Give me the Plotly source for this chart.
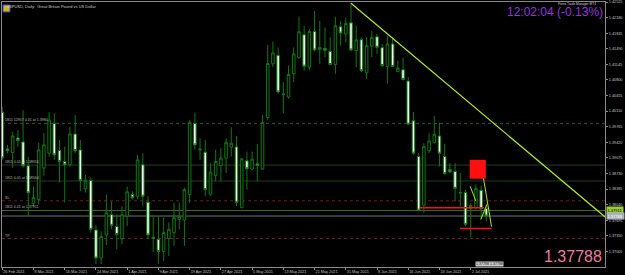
import plotly.graph_objects as go
import pandas as pd

# ---------------- data ----------------
dates = pd.bdate_range("2021-02-26", "2021-07-07")
date_labels = [f"{d.day} {d.strftime('%b %Y')}" for d in dates]

opens = [1.40087, 1.39274, 1.39193, 1.39515, 1.39428, 1.38900, 1.38059, 1.38153, 1.38850, 1.39179,
         1.39838, 1.39236, 1.38995, 1.38922, 1.39603, 1.39252, 1.38389, 1.38577, 1.37479, 1.36857,
         1.37369, 1.37817, 1.37554, 1.37290, 1.37787, 1.38263, 1.38226, 1.38922, 1.38094, 1.37319,
         1.37275, 1.37004, 1.37290, 1.37422, 1.37714, 1.37699, 1.38263, 1.39838, 1.39250, 1.39201,
         1.38270, 1.38687, 1.38907, 1.39070, 1.39311, 1.39318, 1.37971, 1.39010, 1.38828, 1.38944,
         1.38828, 1.39970, 1.41156, 1.41345, 1.40470, 1.40423, 1.40937, 1.41301, 1.41800, 1.41082,
         1.41873, 1.41477, 1.41499, 1.41433, 1.41141, 1.41976, 1.41816, 1.42064, 1.41449, 1.41690,
         1.40959, 1.41552, 1.41756, 1.41515, 1.41097, 1.41596, 1.40987, 1.41025, 1.40774, 1.39896,
         1.39105, 1.38028, 1.39236, 1.39412, 1.39559, 1.39105, 1.38819, 1.38775, 1.38293, 1.38307,
         1.37956, 1.37978, 1.38358, 1.37956]
highs = [1.40196, 1.39362, 1.39654, 1.39691, 1.40131, 1.39098, 1.38439, 1.39406, 1.39625, 1.40087,
         1.40065, 1.39472, 1.39324, 1.39757, 1.40021, 1.39472, 1.38703, 1.38637, 1.37582, 1.37450,
         1.38263, 1.38116, 1.37824, 1.38006, 1.38446, 1.38336, 1.39142, 1.39179, 1.38226, 1.37802,
         1.37787, 1.37758, 1.37648, 1.38088, 1.38081, 1.38410, 1.39911, 1.40080, 1.39509, 1.39472,
         1.38960, 1.39252, 1.39289, 1.39509, 1.39751, 1.39559, 1.39070, 1.39215, 1.39215, 1.39384,
         1.40021, 1.41580, 1.41653, 1.41521, 1.40752, 1.41119, 1.41521, 1.42202, 1.41998, 1.41925,
         1.42327, 1.42108, 1.41961, 1.41741, 1.42196, 1.42108, 1.42180, 1.42497, 1.41998, 1.41741,
         1.41741, 1.41888, 1.41816, 1.41596, 1.41778, 1.41741, 1.41229, 1.41301, 1.40862, 1.40093,
         1.39179, 1.39399, 1.39619, 1.40005, 1.39852, 1.39384, 1.38960, 1.38960, 1.38740, 1.38373,
         1.38081, 1.38483, 1.38461, 1.38044]
lows = [1.39032, 1.39179, 1.38856, 1.39318, 1.38856, 1.37787, 1.38000, 1.38044, 1.38681, 1.39098,
        1.39032, 1.38527, 1.38088, 1.38878, 1.39186, 1.38336, 1.38307, 1.37422, 1.36726, 1.36726,
        1.37143, 1.37494, 1.37055, 1.37165, 1.37567, 1.38153, 1.38153, 1.38006, 1.37275, 1.36990,
        1.36726, 1.36791, 1.36901, 1.37128, 1.37494, 1.37128, 1.38081, 1.39252, 1.39032, 1.38226,
        1.38226, 1.38555, 1.38555, 1.38740, 1.39105, 1.38006, 1.37971, 1.38373, 1.38797, 1.38555,
        1.38812, 1.39911, 1.41082, 1.40497, 1.40058, 1.40388, 1.40752, 1.41266, 1.41009, 1.41009,
        1.41433, 1.41156, 1.41301, 1.41119, 1.40937, 1.41558, 1.41631, 1.41433, 1.41082, 1.40972,
        1.40827, 1.41301, 1.41376, 1.41082, 1.40717, 1.41082, 1.40972, 1.40790, 1.39801, 1.39142,
        1.37896, 1.37861, 1.39179, 1.39399, 1.38885, 1.38703, 1.38740, 1.38116, 1.38000, 1.37560,
        1.37312, 1.37934, 1.37714, 1.37670]
closes = [1.39076, 1.39236, 1.39559, 1.39456, 1.38900, 1.38301, 1.38197, 1.39252, 1.39362, 1.39911,
          1.39142, 1.38995, 1.38922, 1.39603, 1.39236, 1.38577, 1.38577, 1.37494, 1.36857, 1.37334,
          1.37861, 1.37582, 1.37378, 1.37817, 1.38323, 1.38191, 1.39032, 1.38226, 1.37369, 1.37297,
          1.37004, 1.37422, 1.37494, 1.37751, 1.37773, 1.38373, 1.39860, 1.39362, 1.39267, 1.38373,
          1.38762, 1.38995, 1.39070, 1.39412, 1.39399, 1.38094, 1.39054, 1.38834, 1.39048, 1.38907,
          1.39860, 1.41163, 1.41398, 1.40533, 1.40485, 1.40921, 1.41376, 1.41866, 1.41104, 1.41873,
          1.41464, 1.41521, 1.41455, 1.41141, 1.41998, 1.41837, 1.42048, 1.41464, 1.41684, 1.41003,
          1.41558, 1.41741, 1.41521, 1.41119, 1.41596, 1.41097, 1.41060, 1.40812, 1.39823, 1.39179,
          1.37918, 1.39324, 1.39450, 1.39597, 1.39179, 1.38725, 1.38769, 1.38402, 1.38308, 1.37604,
          1.38022, 1.38395, 1.37949, 1.37788]

price_ticks = [1.42525, 1.42180, 1.41835, 1.41490, 1.41145, 1.40800, 1.40455, 1.40110, 1.39765,
               1.39420, 1.39075, 1.38730, 1.38385, 1.38040, 1.37695, 1.37350, 1.37005]
date_tick_idx = list(range(0, 91, 6))

# horizontal order / level lines
level_prices = [1.39838, 1.38916, 1.38564, 1.38125, 1.37911, 1.37290]
level_texts = ["1811 12957 0.01 at 1.3984", "1811 0.01 at 1.38916", "1811 0.01 at 1.38564",
               "SL", "1811 0.01 at 1.37911", "TP"]
bid_price = 1.37788
tp_label_price = 1.37911

# drawn objects (bar index, price)
trend_x = [67, 115.9]
trend_y = [1.42497, 1.37760]
zone_x = [89.8, 92.9]
zone_y = [1.38615, 1.39032]
red_lines = [([80.25, 92.5], 1.37971), ([87.9, 94.05], 1.37510)]
green_segs = [([89.9, 91.0], [1.38446, 1.38116]),
              ([91.95, 94.0], [1.38973, 1.37554]),
              ([91.95, 93.1], [1.37714, 1.38044])]

# ---------------- figure ----------------
W, H = 625, 275
ML, MR, MT, MB = 1, 20, 1, 7
X0, X1 = -0.05, 115.8
Y0, Y1 = 1.36660, 1.42525
FONT = "Liberation Sans, Arial, sans-serif"
GREEN = "#0b7a0b"
LIME = "#aee61c"

idx = list(range(len(opens)))
fig = go.Figure()
fig.add_trace(go.Candlestick(
    x=idx, open=opens, high=highs, low=lows, close=closes,
    increasing=dict(line=dict(color=GREEN, width=1), fillcolor="#000000"),
    decreasing=dict(line=dict(color=GREEN, width=1), fillcolor="#ffffff"),
    whiskerwidth=0, hoverinfo="skip", showlegend=False))

def px2x(px):
    return (px - ML) / (W - ML - MR)

def py2y(py):
    return 1 - (py - MT) / (H - MT - MB)

shapes = []
styles = [dict(color="#2c5a2c", dash="dot"), dict(color="#1c3e1c", dash="solid"),
          dict(color="#1c3e1c", dash="solid"), dict(color="#7a1616", dash="dot"),
          dict(color="#3f6e10", dash="solid"), dict(color="#7a1616", dash="dot")]
for p, st in zip(level_prices, styles):
    shapes.append(dict(type="line", xref="paper", yref="y", x0=0, x1=1, y0=p, y1=p,
                       line=dict(color=st["color"], width=1, dash=st["dash"]), layer="below"))
shapes.append(dict(type="line", xref="paper", yref="y", x0=0, x1=1, y0=bid_price, y1=bid_price,
                   line=dict(color="#6e6e6e", width=1), layer="below"))
shapes.append(dict(type="rect", xref="x", yref="y", x0=zone_x[0], x1=zone_x[1],
                   y0=zone_y[0], y1=zone_y[1], fillcolor="#ff1010", line=dict(width=0)))
for xs, p in red_lines:
    shapes.append(dict(type="line", xref="x", yref="y", x0=xs[0], x1=xs[1], y0=p, y1=p,
                       line=dict(color="#ff1010", width=1.5)))
# icon top-left
shapes.append(dict(type="rect", xref="paper", yref="paper", x0=px2x(2), x1=px2x(9),
                   y0=py2y(11), y1=py2y(4), fillcolor="#d8b020", line=dict(color="#3050c0", width=1)))

fig.add_trace(go.Scatter(x=trend_x, y=trend_y, mode="lines",
                         line=dict(color=LIME, width=1.3), hoverinfo="skip", showlegend=False))
for xs, ys in green_segs:
    fig.add_trace(go.Scatter(x=xs, y=ys, mode="lines",
                             line=dict(color=LIME, width=1), hoverinfo="skip", showlegend=False))

ann = []
for p, t in zip(level_prices, level_texts):
    ann.append(dict(xref="paper", yref="y", x=px2x(3), y=p, text=t, showarrow=False,
                    xanchor="left", yanchor="bottom", font=dict(family=FONT, size=3.6, color="#b8b8b8"),
                    borderpad=0))
ann.append(dict(xref="paper", yref="paper", x=px2x(3), y=py2y(0.5), xanchor="left", yanchor="top",
                text="GBPUSD, Daily:  Great Britain Pound vs US Dollar", showarrow=False,
                font=dict(family=FONT, size=4, color="#c8c8c8")))
ann.append(dict(xref="paper", yref="paper", x=px2x(604), y=py2y(3.5), xanchor="right", yanchor="top",
                text="12:02:04 (-0.13%)", showarrow=False, borderpad=0,
                font=dict(family=FONT, size=12, color="#9a30e0")))
ann.append(dict(xref="paper", yref="paper", x=px2x(597), y=py2y(0.2), xanchor="right", yanchor="top",
                text="Forex Trade Manager MT4", showarrow=False, borderpad=0,
                font=dict(family=FONT, size=3.2, color="#d0d0d0")))
ann.append(dict(xref="paper", yref="paper", x=px2x(604), y=py2y(268), xanchor="right", yanchor="bottom",
                text="1.37788", showarrow=False,
                font=dict(family=FONT, size=16, color="#f07aa0")))
ann.append(dict(xref="paper", yref="paper", x=px2x(475), y=py2y(267.5), xanchor="left", yanchor="bottom",
                text="1.37788 1.37788", showarrow=False, bgcolor="#c8c8c8", borderpad=0,
                font=dict(family=FONT, size=3.6, color="#202020")))
ann.append(dict(xref="paper", yref="y", x=1, xshift=1, y=tp_label_price, xanchor="left", yanchor="middle",
                text="1.37911 ", showarrow=False, bgcolor="#9acd32", borderpad=0.5,
                font=dict(family=FONT, size=4, color="#000000")))
ann.append(dict(xref="paper", yref="y", x=1, xshift=1, y=bid_price, xanchor="left", yanchor="middle",
                text="1.37788 ", showarrow=False, bgcolor="#a8b0c0", borderpad=0.5,
                font=dict(family=FONT, size=4, color="#ffffff")))

fig.update_layout(
    width=W, height=H, margin=dict(l=ML, r=MR, t=MT, b=MB),
    paper_bgcolor="#000000", plot_bgcolor="#000000",
    showlegend=False, shapes=shapes, annotations=ann,
    xaxis=dict(range=[X0, X1], showgrid=False, zeroline=False, rangeslider=dict(visible=False),
               showline=True, linecolor="#8a8a8a", linewidth=1, mirror=True,
               tickvals=date_tick_idx, ticktext=[date_labels[i] for i in date_tick_idx],
               ticks="outside", ticklen=2, tickcolor="#8a8a8a", ticklabelposition="outside right",
               tickfont=dict(family=FONT, size=3.8, color="#c0c0c0")),
    yaxis=dict(range=[Y0, Y1], side="right", showgrid=False, zeroline=False,
               showline=True, linecolor="#8a8a8a", linewidth=1, mirror=True,
               tickvals=price_ticks, ticktext=[f"{v:.5f}" for v in price_ticks],
               ticks="outside", ticklen=2, tickcolor="#8a8a8a",
               tickfont=dict(family=FONT, size=3.8, color="#c0c0c0")),
)

fig.write_html("out.html")
